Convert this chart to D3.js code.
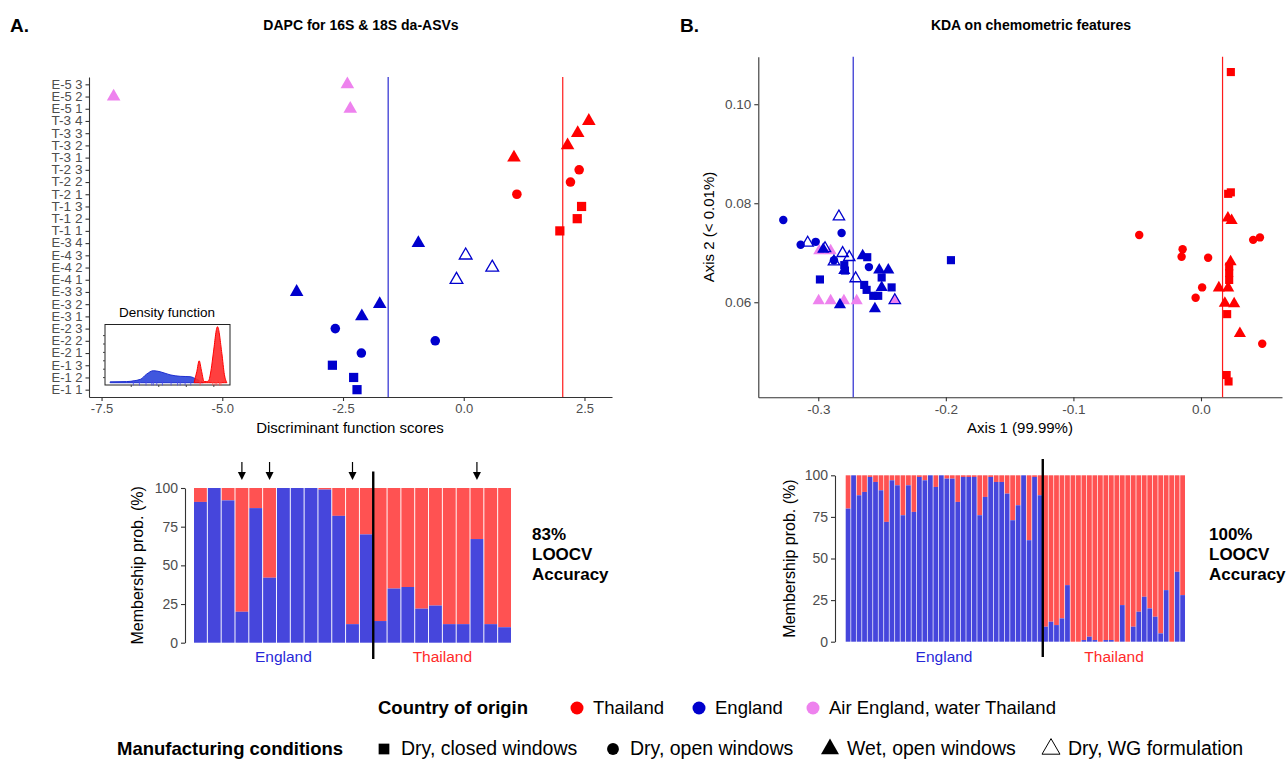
<!DOCTYPE html>
<html>
<head>
<meta charset="utf-8">
<script src="https://cdn.jsdelivr.net/npm/d3@7/dist/d3.min.js"></script>
<style>
  body { margin: 0; background: #fff; }
</style>
</head>
<body>
<svg id="chart" width="1287" height="761"></svg>
<script>
'use strict';

const FONT = '"Liberation Sans", Arial, Helvetica, sans-serif';

// ---- panel A: DAPC scores per sample (top to bottom as on the axis) ----
const dapcSamples = ['E-5 3', 'E-5 2', 'E-5 1', 'T-3 4', 'T-3 3', 'T-3 2', 'T-3 1', 'T-2 3', 'T-2 2', 'T-2 1',
    'T-1 3', 'T-1 2', 'T-1 1', 'E-3 4', 'E-4 3', 'E-4 2', 'E-4 1', 'E-3 3', 'E-3 2', 'E-3 1',
    'E-2 3', 'E-2 2', 'E-2 1', 'E-1 3', 'E-1 2', 'E-1 1'];
const dapcScores = [-2.41, -7.25, -2.35, 2.59, 2.36, 2.15, 1.04, 2.39, 2.21, 1.10,
    2.44, 2.35, 1.99, -0.94, 0.04, 0.59, -0.15, -3.46, -1.74, -2.11,
    -2.66, -0.59, -2.12, -2.72, -2.28, -2.21];
const dapcOrigin = ['AE', 'AE', 'AE', 'TH', 'TH', 'TH', 'TH', 'TH', 'TH', 'TH',
    'TH', 'TH', 'TH', 'EN', 'EN', 'EN', 'EN', 'EN', 'EN', 'EN',
    'EN', 'EN', 'EN', 'EN', 'EN', 'EN'];
const dapcCondition = ['wet', 'wet', 'wet', 'wet', 'wet', 'wet', 'wet', 'dryOpen', 'dryOpen', 'dryOpen',
    'dryClosed', 'dryClosed', 'dryClosed', 'wet', 'wg', 'wg', 'wg', 'wet', 'wet', 'wet',
    'dryOpen', 'dryOpen', 'dryOpen', 'dryClosed', 'dryClosed', 'dryClosed'];
const dapcGroupMeans = [-1.565, 2.05]; // England, Thailand
const dapcXTicks = [-7.5, -5.0, -2.5, 0.0, 2.5];

// density inset
const densEnglandX = [-7.5, -6.3, -5.3, -4.84, -4.36, -3.87, -3.14, -2.41, -1.69, -1.2, -0.74];
const densEnglandY = [0.015, 0.02, 0.06, 0.155, 0.214, 0.196, 0.14, 0.114, 0.107, 0.06, 0];
const densThailandX = [-1.4, -1.2, -1.03, -0.85, -0.67, -0.5, -0.36, -0.15, 0.0, 0.3, 0.62, 0.8, 0.98];
const densThailandY = [0, 0.2, 0.39, 0.2, 0.02, 0.02, 0.03, 0.25, 0.53, 1.0, 0.52, 0.15, 0];
const rugEngland = [-5.81, -5.37, -4.89, -4.47, -4.36, -4.11, -3.70, -3.07, -2.6, -2.41, -2.05, -1.64];
const rugThailand = [-0.96, -0.04, 0.13, 0.25, 0.44, 0.55];
const insetXTicks = [-6, -4, -2, 0];
const insetYTicks = [0.1, 0.25, 0.4, 0.55, 0.7, 0.85];

// ---- panel B: KDA axis scores ----
const kdaAxis1 = [
    // Thailand
    0.0234, 0.0234, 0.0213, 0.0221, 0.0221, 0.0221, 0.0205, 0.0201, 0.0216,
    0.0211, 0.0240, 0.0232, 0.0140, 0.0213, 0.0187, 0.0260, 0.0305,
    -0.0484, -0.0144, -0.0152, 0.0056, 0.0009, -0.0042, 0.0409, 0.0462, 0.0480,
    // air England, water Thailand
    -0.2992, -0.2903, -0.2997, -0.2903, -0.2799, -0.2699, -0.2400,
    // England
    -0.3274, -0.3138, -0.3020, -0.2817, -0.2877, -0.2603,
    -0.2987, -0.2796, -0.2791, -0.2616, -0.2640, -0.2621, -0.2569, -0.2425, -0.2503, -0.2530, -0.1960,
    -0.2652, -0.2522, -0.2451, -0.2503, -0.2556, -0.2830, -0.2961, -0.2796,
    -0.2838, -0.3083, -0.2947, -0.2809, -0.2757, -0.2877, -0.2707, -0.2400];
const kdaAxis2 = [
    0.1065, 0.0822, 0.0819, 0.0672, 0.0659, 0.0645, 0.0576, 0.0453, 0.0440,
    0.0770, 0.0765, 0.0682, 0.0629, 0.0629, 0.0598, 0.0597, 0.0537,
    0.0736, 0.0707, 0.0692, 0.0690, 0.0630, 0.0609, 0.0726, 0.0731, 0.0516,
    0.0704, 0.0704, 0.0603, 0.0603, 0.0603, 0.0603, 0.0604,
    0.0766, 0.0716, 0.0722, 0.0740, 0.0685, 0.0671,
    0.0646, 0.0675, 0.0664, 0.0691, 0.0635, 0.0625, 0.0613, 0.0630, 0.0650, 0.0613, 0.0685,
    0.0694, 0.0665, 0.0665, 0.0630, 0.0587, 0.0595, 0.0707, 0.0664,
    0.0773, 0.0720, 0.0709, 0.0699, 0.0691, 0.0682, 0.0648, 0.0604];
const kdaOrigin = [
    'TH', 'TH', 'TH', 'TH', 'TH', 'TH', 'TH', 'TH', 'TH',
    'TH', 'TH', 'TH', 'TH', 'TH', 'TH', 'TH', 'TH',
    'TH', 'TH', 'TH', 'TH', 'TH', 'TH', 'TH', 'TH', 'TH',
    'AE', 'AE', 'AE', 'AE', 'AE', 'AE', 'AE',
    'EN', 'EN', 'EN', 'EN', 'EN', 'EN',
    'EN', 'EN', 'EN', 'EN', 'EN', 'EN', 'EN', 'EN', 'EN', 'EN', 'EN',
    'EN', 'EN', 'EN', 'EN', 'EN', 'EN', 'EN', 'EN',
    'EN', 'EN', 'EN', 'EN', 'EN', 'EN', 'EN', 'EN'];
const kdaCondition = [
    'dryClosed', 'dryClosed', 'dryClosed', 'dryClosed', 'dryClosed', 'dryClosed', 'dryClosed', 'dryClosed', 'dryClosed',
    'wet', 'wet', 'wet', 'wet', 'wet', 'wet', 'wet', 'wet',
    'dryOpen', 'dryOpen', 'dryOpen', 'dryOpen', 'dryOpen', 'dryOpen', 'dryOpen', 'dryOpen', 'dryOpen',
    'wet', 'wet', 'wet', 'wet', 'wet', 'wet', 'wet',
    'dryOpen', 'dryOpen', 'dryOpen', 'dryOpen', 'dryOpen', 'dryOpen',
    'dryClosed', 'dryClosed', 'dryClosed', 'dryClosed', 'dryClosed', 'dryClosed', 'dryClosed', 'dryClosed', 'dryClosed', 'dryClosed', 'dryClosed',
    'wet', 'wet', 'wet', 'wet', 'wet', 'wet', 'wet', 'wet',
    'wg', 'wg', 'wg', 'wg', 'wg', 'wg', 'wg', 'wg'];
const kdaGroupMeans = [-0.2726, 0.0169];
const kdaXTicks = [-0.3, -0.2, -0.1, 0.0];
const kdaYTicks = [0.06, 0.08, 0.10];

// ---- membership probabilities (% England) ----
const dapcMemberEngland = [91, 100, 92, 20, 87, 42, 100, 100, 100, 99, 82, 12, 70];
const dapcMemberThailand = [14, 35, 36, 22, 24, 12, 12, 67, 12, 10];
const dapcMisclassified = [3, 5, 11, 20];
const kdaMemberEngland = [80, 100, 88, 90, 99, 96, 91, 72, 97, 94, 76, 94, 78, 99, 97, 100, 93, 100,
    98, 98, 84, 99, 99, 99, 76, 87, 99, 96, 96, 89, 73, 82, 100, 61, 99, 88];
const kdaMemberThailand = [9, 12, 10, 14, 34, 0, 0, 1, 3, 1, 0, 1, 1, 0, 22, 0, 9, 18, 27, 20, 15, 5, 31, 0, 42, 28];
const memberTicks = [0, 25, 50, 75, 100];

// ---- legend ----
const originKeys = ['TH', 'EN', 'AE'];
const originLabels = ['Thailand', 'England', 'Air England, water Thailand'];
const conditionKeys = ['dryClosed', 'dryOpen', 'wet', 'wg'];
const conditionLabels = ['Dry, closed windows', 'Dry, open windows', 'Wet, open windows', 'Dry, WG formulation'];

const colourOf = { TH: '#ff0000', EN: '#0000cd', AE: '#ee82ee' };
const BAR_BLUE = '#4646dc';
const BAR_RED = '#ff5252';

const svg = d3.select('#chart');

function styleAxis(g, size) {
    g.attr('font-family', FONT).attr('font-size', size);
    g.select('.domain').attr('stroke', '#333').attr('stroke-width', 1.1);
    g.selectAll('.tick line').attr('stroke', '#333').attr('stroke-width', 1.1);
    g.selectAll('.tick text').attr('fill', '#4d4d4d');
    return g;
}

function symbolPath(cond, size) {
    const type = cond === 'dryClosed' ? d3.symbolSquare : (cond === 'dryOpen' ? d3.symbolCircle : d3.symbolTriangle);
    return d3.symbol().type(type).size(size)();
}

function drawPoints(g, order, px, py, origins, conds, sizes) {
    g.selectAll('path.pt').data(order).join('path')
        .attr('class', 'pt')
        .attr('transform', (i) => `translate(${px(i)},${py(i)})`)
        .attr('d', (i) => symbolPath(conds[i], sizes[conds[i]]))
        .attr('fill', (i) => (conds[i] === 'wg' ? 'none' : colourOf[origins[i]]))
        .attr('stroke', (i) => (conds[i] === 'wg' ? colourOf[origins[i]] : 'none'))
        .attr('stroke-width', 1.3);
}

function addText(x, y, str, opts) {
    const o = Object.assign({ size: 14, weight: 'normal', anchor: 'start', fill: '#000' }, opts || {});
    return svg.append('text')
        .attr('x', x).attr('y', y)
        .attr('font-family', FONT)
        .attr('font-size', o.size)
        .attr('font-weight', o.weight)
        .attr('text-anchor', o.anchor)
        .attr('fill', o.fill)
        .text(str);
}

// ================= Panel A: DAPC scatter =================
function drawDapc() {
    const xA = d3.scaleLinear().domain([-7.76, 3.07]).range([89, 612]);
    const yA = d3.scalePoint().domain(dapcSamples).range([77, 397]).padding(0.6);

    styleAxis(svg.append('g').attr('transform', 'translate(0,397)')
        .call(d3.axisBottom(xA).tickValues(dapcXTicks).tickFormat((d) => d.toFixed(1)).tickSize(4).tickSizeOuter(0)), 13);
    styleAxis(svg.append('g').attr('transform', 'translate(89,0)')
        .call(d3.axisLeft(yA).tickSize(3.5).tickSizeOuter(0)), 12)
        .selectAll('.tick text').attr('textLength', 31).attr('lengthAdjust', 'spacingAndGlyphs');

    // group mean lines
    svg.append('g').selectAll('line').data(dapcGroupMeans).join('line')
        .attr('x1', (d) => xA(d)).attr('x2', (d) => xA(d))
        .attr('y1', 77).attr('y2', 397)
        .attr('stroke', (d, i) => (i === 0 ? '#2a2ad0' : '#ff1a1a'))
        .attr('stroke-width', 1.2);

    const idx = d3.range(dapcSamples.length);
    const order = idx.filter((i) => dapcCondition[i] !== 'wg').concat(idx.filter((i) => dapcCondition[i] === 'wg'));
    drawPoints(svg.append('g'), order, (i) => xA(dapcScores[i]), (i) => yA(dapcSamples[i]),
        dapcOrigin, dapcCondition, { dryClosed: 85, dryOpen: 72, wet: 80, wg: 70 });

    addText(350, 433, 'Discriminant function scores', { size: 15, anchor: 'middle' });
    addText(361, 30, 'DAPC for 16S & 18S da-ASVs', { size: 14, weight: 'bold', anchor: 'middle' });
    addText(10, 32, 'A.', { size: 19, weight: 'bold' });

    // density inset
    const xD = d3.scaleLinear().domain([-7.87, 1.21]).range([105, 230]);
    const yD = d3.scaleLinear().domain([0, 1]).range([382.7, 326.7]);
    const inset = svg.append('g');
    inset.append('rect').attr('x', 105).attr('y', 324.5).attr('width', 125).attr('height', 60.5)
        .attr('fill', '#fff').attr('stroke', '#222').attr('stroke-width', 1);

    const area = d3.area().curve(d3.curveMonotoneX)
        .x((d) => xD(d[0])).y0(yD(0)).y1((d) => yD(d[1]));
    inset.append('path').datum(d3.zip(densEnglandX, densEnglandY))
        .attr('d', area).attr('fill', '#1f3ad8').attr('fill-opacity', 0.85)
        .attr('stroke', '#1f2fd0').attr('stroke-width', 1);
    inset.append('path').datum(d3.zip(densThailandX, densThailandY))
        .attr('d', area).attr('fill', '#ff2a2a').attr('fill-opacity', 0.9)
        .attr('stroke', '#ff0000').attr('stroke-width', 1);

    inset.selectAll('line.rugE').data(rugEngland).join('line').attr('class', 'rugE')
        .attr('x1', (d) => xD(d)).attr('x2', (d) => xD(d)).attr('y1', 380).attr('y2', 385.5)
        .attr('stroke', '#4a4ae6').attr('stroke-width', 0.8);
    inset.selectAll('line.rugT').data(rugThailand).join('line').attr('class', 'rugT')
        .attr('x1', (d) => xD(d)).attr('x2', (d) => xD(d)).attr('y1', 380).attr('y2', 385.5)
        .attr('stroke', '#ff4a4a').attr('stroke-width', 0.8);

    const bx = inset.append('g').attr('transform', 'translate(0,385)')
        .call(d3.axisBottom(xD).tickValues(insetXTicks).tickSize(2).tickFormat(''));
    bx.select('.domain').remove();
    bx.selectAll('.tick line').attr('stroke', '#444');
    const ly = inset.append('g').attr('transform', 'translate(105,0)')
        .call(d3.axisLeft(yD).tickValues(insetYTicks).tickSize(2).tickFormat(''));
    ly.select('.domain').remove();
    ly.selectAll('.tick line').attr('stroke', '#444');

    addText(167, 317, 'Density function', { size: 13.5, anchor: 'middle' });
}

// ================= Panel B: KDA scatter =================
function drawKda() {
    const xB = d3.scaleLinear().domain([-0.347, 0.0635]).range([758.3, 1282]);
    const yB = d3.scaleLinear().domain([0.0408, 0.1096]).range([397.3, 56.7]);

    styleAxis(svg.append('g').attr('transform', 'translate(0,397.3)')
        .call(d3.axisBottom(xB).tickValues(kdaXTicks).tickFormat((d) => d.toFixed(1)).tickSize(4).tickSizeOuter(0)), 13.5);
    styleAxis(svg.append('g').attr('transform', 'translate(758.3,0)')
        .call(d3.axisLeft(yB).tickValues(kdaYTicks).tickFormat((d) => d.toFixed(2)).tickSize(4).tickSizeOuter(0)), 13.5);

    svg.append('g').selectAll('line').data(kdaGroupMeans).join('line')
        .attr('x1', (d) => xB(d)).attr('x2', (d) => xB(d))
        .attr('y1', 56.7).attr('y2', 397.3)
        .attr('stroke', (d, i) => (i === 0 ? '#2a2ad0' : '#ff1a1a'))
        .attr('stroke-width', 1.2);

    const idx = d3.range(kdaAxis1.length);
    const rank = (i) => (kdaCondition[i] === 'wg' ? 3 : (kdaOrigin[i] === 'EN' ? 2 : (kdaOrigin[i] === 'TH' ? 1 : 0)));
    const order = idx.slice().sort((a, b) => rank(a) - rank(b) || a - b);
    drawPoints(svg.append('g'), order, (i) => xB(kdaAxis1[i]), (i) => yB(kdaAxis2[i]),
        kdaOrigin, kdaCondition, { dryClosed: 66, dryOpen: 56, wet: 64, wg: 56 });

    addText(1020, 433, 'Axis 1 (99.99%)', { size: 15, anchor: 'middle' });
    addText(0, 0, 'Axis 2 (< 0.01%)', { size: 15, anchor: 'middle' })
        .attr('transform', 'translate(714,227) rotate(-90)');
    addText(1031, 30, 'KDA on chemometric features', { size: 14, weight: 'bold', anchor: 'middle' });
    addText(680, 32, 'B.', { size: 19, weight: 'bold' });
}

// ================= membership bars =================
function drawMembership(o) {
    const values = o.england.concat(o.thailand);
    const x = d3.scaleBand().domain(d3.range(values.length)).range(o.xRange).paddingInner(o.pad);
    const y = d3.scaleLinear().domain([0, 100]).range(o.yRange);
    const g = svg.append('g');

    g.selectAll('rect.th').data(values).join('rect').attr('class', 'th')
        .attr('x', (d, i) => x(i)).attr('width', x.bandwidth())
        .attr('y', y(100)).attr('height', (d) => y(d) - y(100))
        .attr('fill', BAR_RED);
    g.selectAll('rect.en').data(values).join('rect').attr('class', 'en')
        .attr('x', (d, i) => x(i)).attr('width', x.bandwidth())
        .attr('y', (d) => y(d)).attr('height', (d) => y(0) - y(d))
        .attr('fill', BAR_BLUE);

    styleAxis(svg.append('g').attr('transform', `translate(${o.axisX},0)`)
        .call(d3.axisLeft(y).tickValues(memberTicks).tickSize(4).tickSizeOuter(0)), 14);

    const n = o.england.length;
    const sepX = x(n) - (x.step() * x.paddingInner()) / 2;
    svg.append('line').attr('x1', sepX).attr('x2', sepX)
        .attr('y1', o.sepTop).attr('y2', o.sepBottom)
        .attr('stroke', '#000').attr('stroke-width', 2.4);

    (o.arrows || []).forEach((i) => {
        const cx = x(i) + x.bandwidth() / 2;
        svg.append('line').attr('x1', cx).attr('x2', cx).attr('y1', 462).attr('y2', 474)
            .attr('stroke', '#000').attr('stroke-width', 1.2);
        svg.append('path').attr('d', `M${cx - 4},472L${cx + 4},472L${cx},480Z`).attr('fill', '#000');
    });

    const enMid = (x(0) + x(n - 1) + x.bandwidth()) / 2;
    const thMid = (x(n) + x(values.length - 1) + x.bandwidth()) / 2;
    addText(enMid, 662, 'England', { size: 15.5, anchor: 'middle', fill: '#2828d8' });
    addText(thMid, 662, 'Thailand', { size: 15.5, anchor: 'middle', fill: '#ff2a2a' });

    addText(0, 0, 'Membership prob. (%)', { size: 16, anchor: 'middle' })
        .attr('transform', `translate(${o.labelX},${(o.yRange[0] + o.yRange[1]) / 2}) rotate(-90)`);

    o.accuracy.forEach((line, k) => {
        addText(o.accX, 540 + k * 20, line, { size: 17, weight: 'bold' });
    });
}

// ================= legend =================
function drawLegend() {
    const originSymX = [577, 699, 813];
    const conditionSymX = [384, 613, 830, 1051];

    addText(378, 714, 'Country of origin', { size: 18.5, weight: 'bold' });
    originKeys.forEach((k, i) => {
        svg.append('circle').attr('cx', originSymX[i]).attr('cy', 708).attr('r', 6.5).attr('fill', colourOf[k]);
        addText(originSymX[i] + 16, 714, originLabels[i], { size: 18.5 });
    });

    addText(117, 755, 'Manufacturing conditions', { size: 18.5, weight: 'bold' });
    conditionKeys.forEach((k, i) => {
        const size = k === 'dryClosed' ? 115 : (k === 'dryOpen' ? 110 : 140);
        svg.append('path')
            .attr('transform', `translate(${conditionSymX[i]},749)`)
            .attr('d', symbolPath(k, size))
            .attr('fill', k === 'wg' ? 'none' : '#000')
            .attr('stroke', k === 'wg' ? '#000' : 'none')
            .attr('stroke-width', 1);
        addText(conditionSymX[i] + 17, 755, conditionLabels[i], { size: 19.5 });
    });
}

drawDapc();
drawKda();
drawMembership({
    england: dapcMemberEngland, thailand: dapcMemberThailand,
    xRange: [194, 511], yRange: [642.7, 488], pad: 0.07, axisX: 185, labelX: 143,
    sepTop: 471.5, sepBottom: 659, arrows: dapcMisclassified,
    accX: 532, accuracy: ['83%', 'LOOCV', 'Accuracy'],
});
drawMembership({
    england: kdaMemberEngland, thailand: kdaMemberThailand,
    xRange: [845.7, 1185], yRange: [641.7, 475.3], pad: 0.13, axisX: 835, labelX: 795,
    sepTop: 459, sepBottom: 657, arrows: [],
    accX: 1209, accuracy: ['100%', 'LOOCV', 'Accuracy'],
});
drawLegend();
</script>
</body>
</html>
